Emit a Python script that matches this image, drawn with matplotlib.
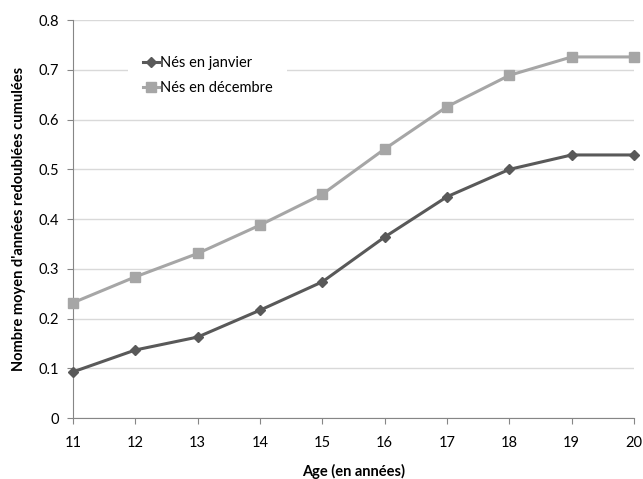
import numpy as np
import matplotlib.pyplot as plt

plt.rcParams['font.family'] = ['Lato', 'DejaVu Sans']

ages = [11, 12, 13, 14, 15, 16, 17, 18, 19, 20]
janvier = [0.093, 0.137, 0.163, 0.217, 0.274, 0.364, 0.445, 0.500, 0.529, 0.529]
decembre = [0.232, 0.284, 0.331, 0.388, 0.450, 0.541, 0.626, 0.689, 0.726, 0.726]
yticks = [0, 0.1, 0.2, 0.3, 0.4, 0.5, 0.6, 0.7, 0.8]
ytick_labels = ['0', '0.1', '0.2', '0.3', '0.4', '0.5', '0.6', '0.7', '0.8']

fig = plt.figure(figsize=(6.43, 4.79), dpi=100)
ax = fig.add_axes([0.1135, 0.127, 0.8725, 0.831])

ax.grid(axis='y', color='#d9d9d9', linewidth=1)
ax.set_axisbelow(True)

ax.plot(ages, janvier, color='#595959', linewidth=2.2, marker='D', markersize=5.5,
        label='Nés en janvier', clip_on=False, zorder=3)
ax.plot(ages, decembre, color='#a6a6a6', linewidth=2.2, marker='s', markersize=7,
        label='Nés en décembre', clip_on=False, zorder=3)

ax.set_xlim(11, 20)
ax.set_ylim(0, 0.8)
ax.set_xticks(ages)
ax.set_yticks(yticks)
ax.set_yticklabels(ytick_labels)
ax.tick_params(labelsize=10.5, color='#868686', length=4)
ax.tick_params(axis='x', pad=9)
ax.tick_params(axis='y', pad=6)
for s in ['top', 'right']:
    ax.spines[s].set_visible(False)
for s in ['left', 'bottom']:
    ax.spines[s].set_color('#868686')

ax.set_xlabel('Age (en années)', fontsize=10.5, fontweight='bold', labelpad=10)
ax.set_ylabel("Nombre moyen d'années redoublées cumulées", fontsize=10.5, fontweight='bold', labelpad=9)

leg = ax.legend(loc='upper left', bbox_to_anchor=(0.085, 0.965), frameon=True, fancybox=False,
                edgecolor='none', facecolor='white', framealpha=1, fontsize=10.5,
                handlelength=1.1, handletextpad=0.1, labelspacing=0.75, borderpad=1.0)

fig.savefig('out.png', dpi=100)
